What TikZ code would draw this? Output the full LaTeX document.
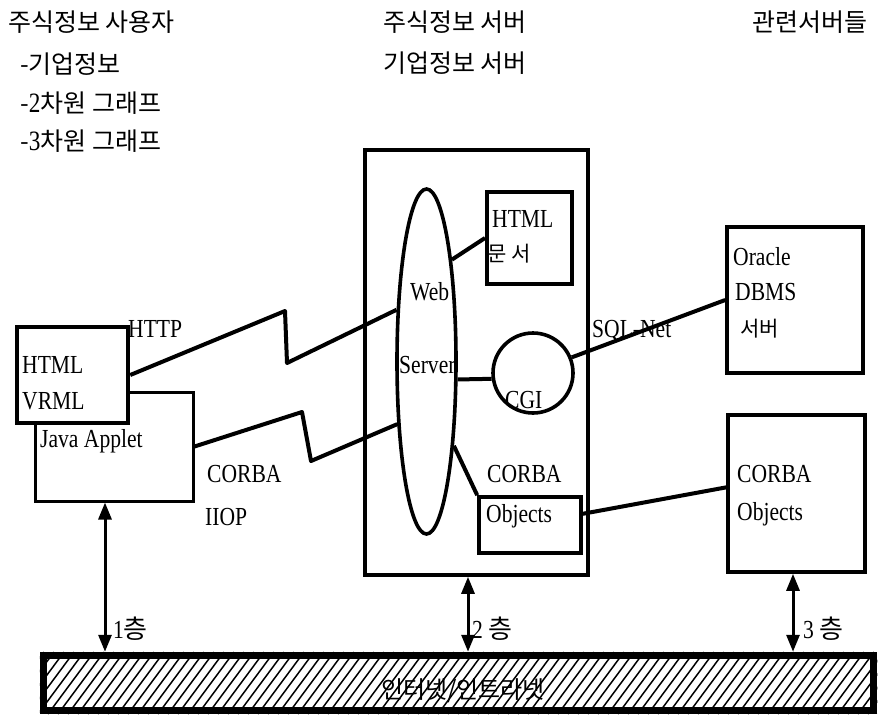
\documentclass[tikz,border=0pt]{standalone}
\usepackage{fontspec}
\setmainfont{Liberation Serif}[FakeStretch=0.83]
\newfontfamily\kr{Noto Sans CJK KR}
\usetikzlibrary{arrows.meta,shapes.geometric}
\tikzset{
  box/.style={draw,line width=3.6pt,inner sep=0pt,fill=white},
  lbl/.style={anchor=base west,inner sep=0pt,font=\fontsize{26}{30}\selectfont},
  hd/.style={anchor=base west,inner sep=0pt,font=\fontsize{25}{30}\selectfont\kr},
  krs/.style={anchor=base west,inner sep=0pt,font=\fontsize{21}{25}\selectfont\kr},
  wire/.style={line width=4pt,line join=round},
  tier/.style={line width=3pt,{Triangle[length=17pt,width=13pt]}-{Triangle[length=17pt,width=13pt]}}
}
\begin{document}
\begin{tikzpicture}[x=1pt,y=-1pt]
\useasboundingbox (0,0) rectangle (882,718);
\node[hd] (user) at (8,31) {주식정보 사용자};
\node[hd] (ul1) at (20,73) {-기업정보};
\node[hd] (ul2) at (20,112) {-{\rmfamily\fontsize{28}{30}\selectfont 2}차원 그래프};
\node[hd] (ul3) at (20,150) {-{\rmfamily\fontsize{28}{30}\selectfont 3}차원 그래프};
\node[hd] (srvhd) at (383,31) {주식정보 서버};
\node[hd] (srvhd2) at (383,72) {기업정보 서버};
\node[hd] (relhd) at (752,31) {관련서버들};
% tier 1
\node[box,line width=3pt,minimum width=158,minimum height=109] (java) at (114,446.5) {};
\node[box,line width=4.5pt,minimum width=111,minimum height=96] (htmlbox) at (72.5,375) {};
\node[lbl] (htmltxt) at (22,373) {HTML};
\node[lbl] (vrmltxt) at (22,409) {VRML};
\node[lbl] (javatxt) at (40,447) {Java Applet};
\node[lbl] (http) at (128,337) {HTTP};
\node[lbl] (corbal) at (207,482) {CORBA};
\node[lbl] (iiop) at (205,525) {IIOP};
% tier 2
\node[box,minimum width=223,minimum height=425] (server) at (476.5,362.5) {};
\node[draw,ellipse,line width=3.6pt,inner sep=0pt,minimum width=59,minimum height=345] (web) at (426.5,361.5) {};
\node[box,line width=4pt,minimum width=85,minimum height=92] (htmldoc) at (529.5,238) {};
\node[draw,circle,line width=3.6pt,inner sep=0pt,minimum size=80] (cgi) at (533,373) {};
\node[box,minimum width=102,minimum height=56] (objbox) at (530,525) {};
\node[lbl] (webtxt) at (410,300) {Web};
\node[lbl] (servertxt) at (399,373) {Server};
\node[lbl] (doctxt) at (492,227) {HTML};
\node[krs] (doctxt2) at (487,261) {문 서};
\node[lbl] (cgitxt) at (505,408) {CGI};
\node[lbl] (corbai) at (487,482) {CORBA};
\node[lbl] (objtxt) at (486,522) {Objects};
% tier 3
\node[box,minimum width=136,minimum height=146] (oracle) at (795,300) {};
\node[box,minimum width=137,minimum height=157] (corba) at (796.5,493.5) {};
\node[lbl] (oratxt) at (733,265) {Oracle};
\node[lbl] (dbmstxt) at (735,300) {DBMS};
\node[krs] (oratxt2) at (740,336) {서버};
\node[lbl] (corbatxt) at (737,482) {CORBA};
\node[lbl] (corbatxt2) at (737,520) {Objects};
\node[lbl] (sqlnet) at (592,337) {SQL-Net};
% links
\draw[wire] (htmlbox.east) -- (285,311) -- (287,363) -- (web.120);
\draw[wire] (java.east) -- (302,412) -- (311,461) -- (web.245);
\draw[wire] (web.76) -- (htmldoc.west);
\draw[wire] (web.-30) -- (cgi.188);
\draw[wire] (cgi.22) -- (oracle.west);
\draw[wire] (web.-72) -- (objbox.north west);
\draw[wire] (objbox.12) -- (corba.175);
% network bar
\node[draw,line width=7.5pt,inner sep=0pt,minimum width=830,minimum height=55] (net) at (458.5,683) {};
\begin{scope}
\clip (net.north west) rectangle (net.south east);
\foreach \x in {-12,-2,...,880} \draw[line width=1.5pt] (\x,714) -- ++(46,-62);
\end{scope}
\node[hd,anchor=base,font=\fontsize{24}{28}\selectfont\kr] (nettxt) at (463,698) {인터넷/인트라넷};
\coordinate (t1) at ([xshift=-9pt]java.south);
\coordinate (t2) at ([xshift=-8.5pt]server.south);
\coordinate (t3) at ([xshift=-3.5pt]corba.south);
\draw[tier] (t1) -- (t1 |- net.north);
\draw[tier] (t2) -- (t2 |- net.north);
\draw[tier] (t3) -- (t3 |- net.north);
\node[lbl] (t1lbl) at (113,638) {1{\kr 층}};
\node[lbl] (t2lbl) at (472,638) {2 {\kr 층}};
\node[lbl] (t3lbl) at (803,638) {3 {\kr 층}};
\end{tikzpicture}
\end{document}
